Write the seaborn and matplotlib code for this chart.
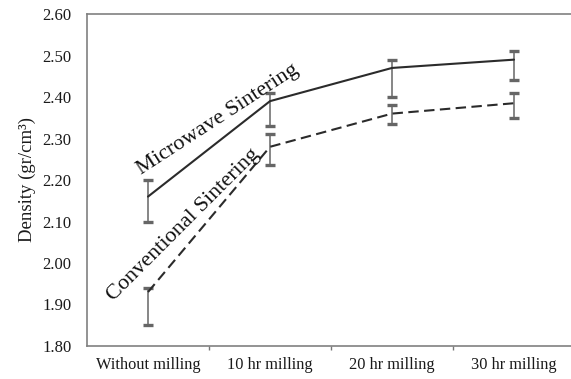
import numpy as np
import pandas as pd
import matplotlib
matplotlib.use("Agg")
import matplotlib.pyplot as plt
import seaborn as sns

# Density of sintered samples for each milling time
categories = ["Without milling", "10 hr milling", "20 hr milling", "30 hr milling"]
microwave_mean = [2.16, 2.39, 2.47, 2.49]
microwave_upper = [2.20, 2.41, 2.49, 2.51]
microwave_lower = [2.10, 2.33, 2.40, 2.44]
conventional_mean = [1.93, 2.28, 2.36, 2.385]
conventional_upper = [1.94, 2.31, 2.38, 2.41]
conventional_lower = [1.85, 2.235, 2.335, 2.35]
y_ticks = [1.80, 1.90, 2.00, 2.10, 2.20, 2.30, 2.40, 2.50, 2.60]

sns.set_theme(style="white")
plt.rcParams["font.family"] = ["Liberation Serif", "DejaVu Serif"]

idx = np.arange(len(categories))
df = pd.DataFrame({
    "pos": np.concatenate([idx, idx]),
    "density": microwave_mean + conventional_mean,
    "method": ["Microwave"] * 4 + ["Conventional"] * 4,
})

fig = plt.figure(figsize=(5.71, 3.79), dpi=100)
ax = fig.add_axes([87 / 571, 33 / 379, 488 / 571, 332 / 379])

sns.lineplot(data=df, x="pos", y="density", hue="method", style="method",
             palette={"Microwave": "#2b2b2b", "Conventional": "#2b2b2b"},
             dashes={"Microwave": "", "Conventional": (5, 2.6)},
             linewidth=1.5, legend=False, ax=ax, zorder=3)

for mean, up, lo in [(microwave_mean, microwave_upper, microwave_lower),
                     (conventional_mean, conventional_upper, conventional_lower)]:
    mean = np.array(mean)
    yerr = np.vstack([mean - np.array(lo), np.array(up) - mean])
    _, caps, _ = ax.errorbar(idx, mean, yerr=yerr, fmt="none", ecolor="#666666",
                             elinewidth=1.1, capsize=3.6, capthick=2.4, zorder=2)
    for cap in caps:
        cap.set_color("#1a1a1a")

ax.set_xlim(-0.5, 3.5)
ax.set_ylim(1.80, 2.60)
ax.set_yticks(y_ticks)
ax.set_yticklabels([f"{v:.2f}" for v in y_ticks])
ax.set_xticks(idx)
ax.set_xticklabels(categories)
ax.set_xticks([0.5, 1.5, 2.5], minor=True)
ax.tick_params(axis="x", which="major", length=0, pad=8, labelsize=11.8, colors="#1a1a1a")
ax.tick_params(axis="x", which="minor", length=3, width=1, color="#777777", direction="out", bottom=True)
ax.tick_params(axis="y", length=0, pad=11, labelsize=12, colors="#1a1a1a")
ax.set_xlabel("")
ax.set_ylabel("Density (gr/cm\u00b3)", fontsize=13.5, color="#1a1a1a", labelpad=5)

for side in ["left", "bottom", "top"]:
    ax.spines[side].set_visible(True)
    ax.spines[side].set_color("#808080")
    ax.spines[side].set_linewidth(1.2)
ax.spines["right"].set_visible(False)

ax.text(0.59, 2.336, "Microwave Sintering", rotation=33, rotation_mode="anchor",
        ha="center", va="baseline", fontsize=16, color="#111111")
ax.text(0.32, 2.083, "Conventional Sintering", rotation=45, rotation_mode="anchor",
        ha="center", va="baseline", fontsize=16, color="#111111")

fig.savefig("out.png", dpi=100)
